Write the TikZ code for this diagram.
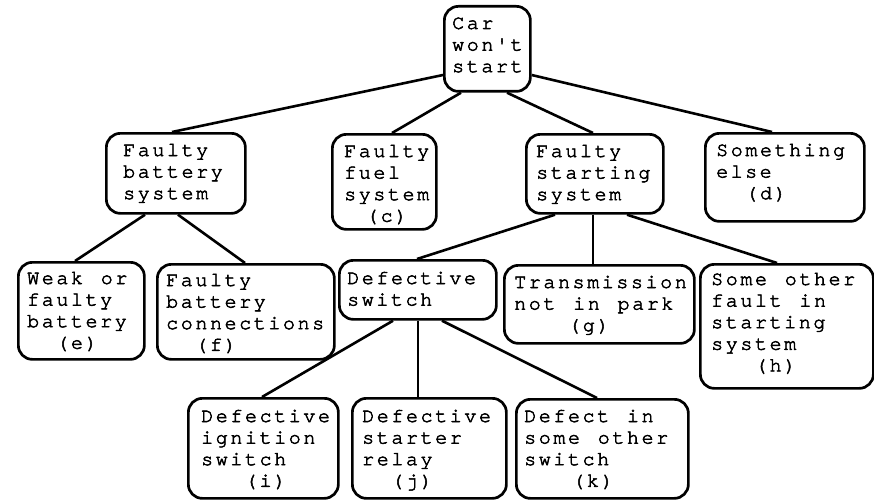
\documentclass[tikz,border=0pt]{standalone}
\usepackage{fontspec}
\setmonofont{texgyrecursor-regular.otf}[LetterSpace=13,WordSpace=1.22,FakeBold=2.6]
\newlength\advw
\setlength\advw{14.6pt}
\newcommand\ind[1]{\hspace*{#1\advw}}
\newcommand\lines[1]{\begin{tabular}[t]{@{}l@{}}#1\end{tabular}}
\newcommand\bx[5]{\node[box, minimum width={#4-#2}, minimum height={#5-#3}] (#1) at (#2,#3) {};}
\tikzset{
  box/.style={draw, line width=2.7pt, rounded corners=14pt, inner sep=0pt, anchor=north west, fill=white},
  txt/.style={inner sep=0pt, anchor=base west, font=\ttfamily\fontsize{20}{21.6}\selectfont},
  conn/.style={line width=2.6pt}
}
\begin{document}
\begin{tikzpicture}[x=1pt,y=-1pt]
\useasboundingbox[fill=white] (0,0) rectangle (874,500);
% boxes
\bx{root}{443}{5}{529}{90}
\bx{bat}{105}{132}{244}{212}
\bx{fuel}{331}{133}{435}{228}
\bx{start}{525}{133}{662}{212}
\bx{else}{704}{132}{863}{220}
\bx{weak}{17}{261}{143}{358}
\bx{conn}{156}{263}{333}{358}
\bx{defsw}{338}{259}{495}{318}
\bx{trans}{503}{264}{693}{342}
\bx{other}{699}{263}{872}{387}
\bx{ign}{187}{397}{337}{497}
\bx{relay}{351}{397}{505}{497}
\bx{defect}{515}{398}{687}{497}
% connectors
\draw[conn] ([yshift=-70pt]root.north west) -- ([xshift=67pt]bat.north west);
\draw[conn] ([xshift=18pt]root.south west) -- ([xshift=61pt]fuel.north west);
\draw[conn] ([xshift=64pt]root.south west) -- ([xshift=68pt]start.north west);
\draw[conn] ([yshift=-70pt]root.north east) -- ([xshift=68pt]else.north west);
\draw[conn] ([xshift=40pt]bat.south west) -- ([xshift=58pt]weak.north west);
\draw[conn] ([xshift=73pt]bat.south west) -- ([xshift=89pt]conn.north west);
\draw[conn] ([xshift=30pt]start.south west) -- ([xshift=79pt]defsw.north west);
\draw[conn] ([xshift=68pt]start.south west) -- ([xshift=90pt]trans.north west);
\draw[conn] ([xshift=102pt]start.south west) -- ([xshift=78pt]other.north west);
\draw[conn] ([xshift=55pt]defsw.south west) -- ([xshift=75pt]ign.north west);
\draw[conn] ([xshift=80pt]defsw.south west) -- ([xshift=67pt]relay.north west);
\draw[conn] ([xshift=104pt]defsw.south west) -- ([xshift=82pt]defect.north west);
% texts
\node[txt] (root-t) at ([xshift=9pt,yshift=-24pt]root.north west) {\lines{Car\\won't\\start}};
\node[txt] (bat-t) at ([xshift=18pt,yshift=-24pt]bat.north west) {\lines{Faulty\\battery\\system}};
\node[txt] (fuel-t) at ([xshift=13pt,yshift=-24pt]fuel.north west) {\lines{Faulty\\fuel\\system\\\ind{1.5}(c)}};
\node[txt] (start-t) at ([xshift=11pt,yshift=-24pt]start.north west) {\lines{Faulty\\starting\\system}};
\node[txt] (else-t) at ([xshift=12pt,yshift=-24pt]else.north west) {\lines{Something\\e\hspace{2.5pt}l\hspace{2.5pt}s\hspace{2.5pt}e\\\ind{2}(d)}};
\node[txt] (weak-t) at ([xshift=10pt,yshift=-23pt]weak.north west) {\lines{Weak or\\faulty\\battery\\\ind{2}(e)}};
\node[txt] (conn-t) at ([xshift=10pt,yshift=-23pt]conn.north west) {\lines{Faulty\\battery\\connections\\\ind{2}(f)}};
\node[txt] (defsw-t) at ([xshift=9pt,yshift=-25pt]defsw.north west) {\lines{Defective\\switch}};
\node[txt] (trans-t) at ([xshift=11pt,yshift=-24pt]trans.north west) {\lines{Transmission\\not in park\\\ind{3.7}(g)}};
\node[txt] (other-t) at ([xshift=12pt,yshift=-22pt]other.north west) {\lines{Some other\\fault in\\starting\\system\\\ind{3}(h)}};
\node[txt] (ign-t) at ([xshift=14pt,yshift=-25pt]ign.north west) {\lines{Defective\\ignition\\switch\\\ind{3}(i)}};
\node[txt] (relay-t) at ([xshift=11pt,yshift=-25pt]relay.north west) {\lines{Defective\\starter\\relay\\\ind{2}(j)}};
\node[txt] (defect-t) at ([xshift=9pt,yshift=-24pt]defect.north west) {\lines{Defect in\\some other\\switch\\\ind{3.3}(k)}};
\end{tikzpicture}
\end{document}
